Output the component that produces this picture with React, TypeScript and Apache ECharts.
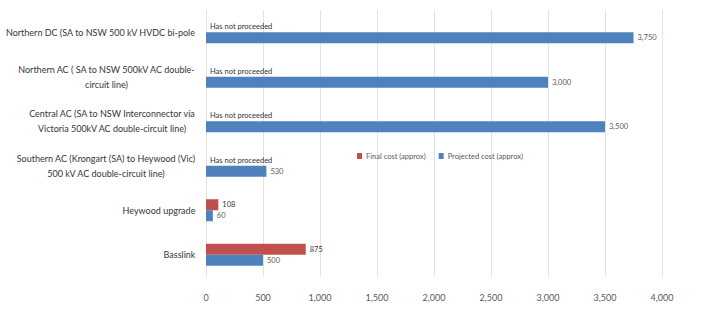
import React, { useEffect, useRef } from "react";
import * as echarts from "echarts";

const categories = [
  "Northern DC (SA to NSW 500 kV HVDC bi-pole",
  "Northern AC ( SA to NSW 500kV AC double-\ncircuit line)",
  "Central AC (SA to NSW Interconnector via\nVictoria 500kV AC double-circuit line)",
  "Southern AC (Krongart (SA) to Heywood (Vic)\n500 kV AC double-circuit line)",
  "Heywood upgrade",
  "Basslink",
];
const finalCost = [0, 0, 0, 0, 108, 875];
const finalStatus = ["Has not proceeded", "Has not proceeded", "Has not proceeded", "Has not proceeded", "", ""];
const projectedCost = [3750, 3000, 3500, 530, 60, 500];
const xTicks = [0, 500, 1000, 1500, 2000, 2500, 3000, 3500, 4000];

const LABEL_FONT = "Lato, sans-serif";
const LABEL_SIZE = 9;

function measure(text: string): number {
  const c = document.createElement("canvas").getContext("2d")!;
  c.font = `${LABEL_SIZE}px ${LABEL_FONT}`;
  return c.measureText(text).width;
}

export default function App() {
  const ref = useRef<HTMLDivElement>(null);
  useEffect(() => {
    if (!ref.current) return;
    const chart = echarts.init(ref.current, undefined, { renderer: "svg" });
    const rich: Record<string, any> = {};
    categories.forEach((c, i) => {
      const w = Math.max(...c.split("\n").map(measure));
      rich["c" + i] = {
        width: Math.ceil(w) + 1,
        align: "center",
        fontFamily: LABEL_FONT,
        fontSize: LABEL_SIZE,
        color: "#363636",
        lineHeight: 15,
      };
    });
    const fmt = (v: number) => v.toLocaleString("en-US");
    chart.setOption({
      animation: false,
      grid: { left: 206, right: 40, top: 10, bottom: 48, containLabel: false, outerBoundsMode: "none" },
      legend: {
        left: 352,
        top: 147,
        itemWidth: 5,
        itemHeight: 6,
        itemGap: 13,
        icon: "rect",
        textStyle: { fontFamily: LABEL_FONT, fontSize: 7.5, color: "#595959", padding: [0, 0, 0, -1] },
        data: ["Final cost (approx)", "Projected cost (approx)"],
      },
      xAxis: {
        type: "value",
        min: 0,
        max: 4000,
        interval: 500,
        axisLine: { show: false },
        axisTick: { show: false },
        splitLine: { lineStyle: { color: "#e3e3e3" } },
        axisLabel: {
          margin: 16,
          fontFamily: LABEL_FONT,
          fontSize: 9,
          color: "#595959",
          formatter: (v: number) => (xTicks.includes(v) ? fmt(v) : ""),
        },
      },
      yAxis: {
        type: "category",
        inverse: true,
        data: categories,
        axisLine: { show: false },
        axisTick: { show: false },
        axisLabel: {
          margin: 10,
          formatter: (v: string) => {
            const i = categories.indexOf(v);
            return v
              .split("\n")
              .map((l) => `{c${i}|${l}}`)
              .join("\n");
          },
          rich,
        },
      },
      series: [
        {
          name: "Final cost (approx)",
          type: "bar",
          data: finalCost,
          barWidth: 11,
          barGap: "0%",
          itemStyle: { color: "#C0504D" },
          label: {
            show: true,
            position: "right",
            distance: 4,
            fontFamily: LABEL_FONT,
            formatter: (p: any) => finalStatus[p.dataIndex] || fmt(p.value),
            fontSize: 7.5,
            color: "#333333",
          },
        },
        {
          name: "Projected cost (approx)",
          type: "bar",
          data: projectedCost,
          barWidth: 11,
          barGap: "0%",
          itemStyle: { color: "#4F81BD" },
          label: {
            show: true,
            position: "right",
            distance: 4,
            fontFamily: LABEL_FONT,
            fontSize: 7.5,
            color: "#595959",
            formatter: (p: any) => fmt(p.value),
          },
        },
      ],
    });
    return () => chart.dispose();
  }, []);
  return <div ref={ref} style={{ width: 702, height: 325, position: "absolute", left: 0, top: 0 }} />;
}
